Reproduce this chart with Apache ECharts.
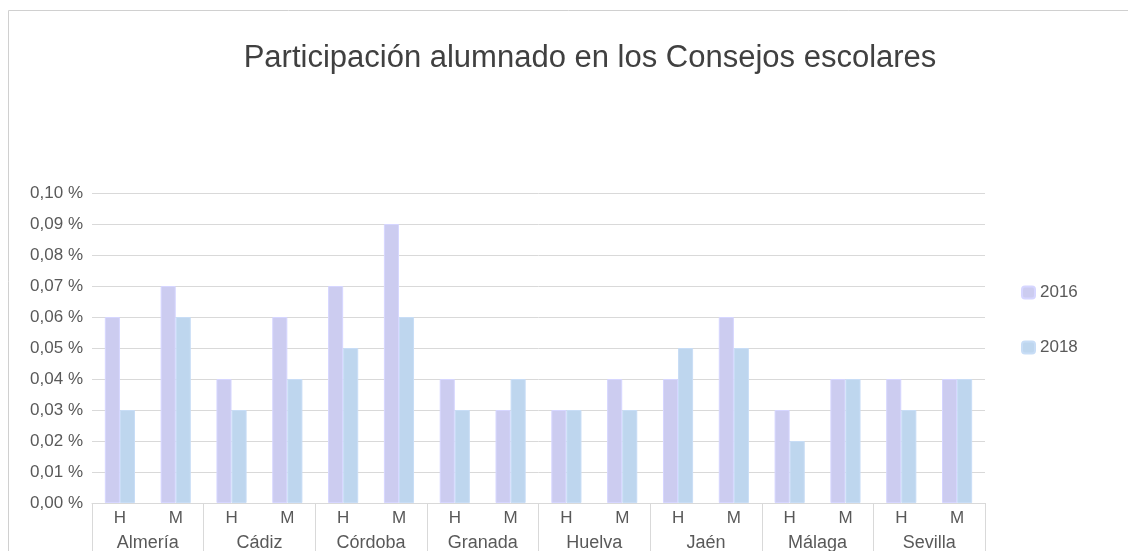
<!DOCTYPE html>
<html>
<head>
<meta charset="utf-8">
<script src="https://cdn.jsdelivr.net/npm/echarts@6/dist/echarts.min.js"></script>
<style>
  html, body { margin: 0; padding: 0; background: #fff; }
  #chart { width: 1128px; height: 551px; }
</style>
</head>
<body>
<div id="chart"></div>
<script>
  // datos
  var provincias = ['Almería', 'Cádiz', 'Córdoba', 'Granada', 'Huelva', 'Jaén', 'Málaga', 'Sevilla']
  var sexos = ['H', 'M', 'H', 'M', 'H', 'M', 'H', 'M', 'H', 'M', 'H', 'M', 'H', 'M', 'H', 'M']
  var datos2016 = [0.06, 0.07, 0.04, 0.06, 0.07, 0.09, 0.04, 0.03, 0.03, 0.04, 0.04, 0.06, 0.03, 0.04, 0.04, 0.04]
  var datos2018 = [0.03, 0.06, 0.03, 0.04, 0.05, 0.06, 0.03, 0.04, 0.03, 0.03, 0.05, 0.05, 0.02, 0.04, 0.03, 0.04]

  var fuente = 'Liberation Sans'
  var gris = '#D9D9D9'

  var chart = echarts.init(document.getElementById('chart'))
  var option = {
    animation: false,
    textStyle: { fontFamily: fuente },
    title: {
      text: 'Participación alumnado en los Consejos escolares',
      left: 585,
      textAlign: 'center',
      top: 38,
      textStyle: { fontSize: 31, fontWeight: 'normal', color: '#404040', fontFamily: fuente }
    },
    graphic: [{
      type: 'rect',
      shape: { x: 8.5, y: 10.5, width: 1200, height: 600 },
      style: { fill: 'none', stroke: '#D0D0D0', lineWidth: 1 },
      silent: true
    }],
    legend: {
      orient: 'vertical',
      left: 1016,
      top: 279,
      itemWidth: 13,
      itemHeight: 12,
      itemGap: 38,
      textStyle: { fontSize: 17, color: '#595959' },
      data: ['2016', '2018']
    },
    grid: { left: 92, right: 143, top: 193, bottom: 48, containLabel: false, outerBoundsMode: 'none' },
    xAxis: [{
      type: 'category',
      data: sexos,
      axisLine: { lineStyle: { color: gris } },
      axisTick: { show: false },
      axisLabel: { margin: 7, fontSize: 17, color: '#595959' }
    }, {
      type: 'category',
      data: provincias,
      position: 'bottom',
      axisLine: { show: false },
      axisTick: { show: true, length: 50, lineStyle: { color: gris } },
      axisLabel: { margin: 31, fontSize: 18, color: '#595959' }
    }],
    yAxis: {
      type: 'value',
      min: 0,
      max: 0.1,
      interval: 0.01,
      axisLine: { show: false },
      axisTick: { show: false },
      splitLine: { lineStyle: { color: gris } },
      axisLabel: {
        margin: 9,
        fontSize: 17,
        color: '#595959',
        formatter: function (v) { return v.toFixed(2).replace('.', ',') + ' %' }
      }
    },
    series: [{
      name: '2016',
      type: 'bar',
      data: datos2016,
      barGap: '0%',
      barCategoryGap: '46%',
      itemStyle: { color: '#CCCCF0', borderColor: '#D6D6FF', borderWidth: 1 }
    }, {
      name: '2018',
      type: 'bar',
      data: datos2018,
      itemStyle: { color: '#BED6EE', borderColor: '#C8DDF6', borderWidth: 1 }
    }]
  }
  chart.setOption(option)
</script>
</body>
</html>
